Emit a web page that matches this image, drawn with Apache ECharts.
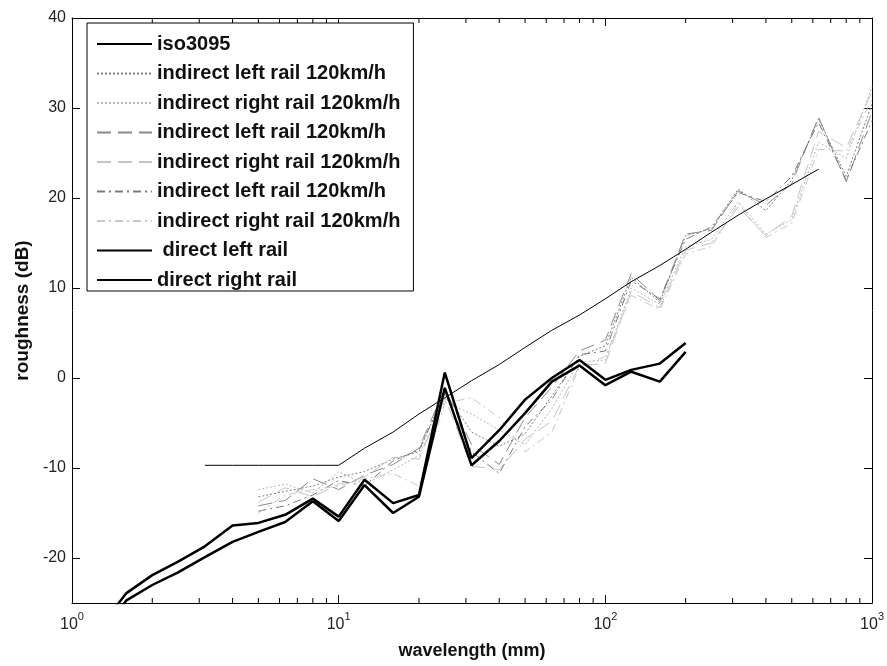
<!DOCTYPE html>
<html><head><meta charset="utf-8">
<script src="https://cdn.jsdelivr.net/npm/echarts@6/dist/echarts.min.js"></script>
<style>html,body{margin:0;padding:0;background:#fff}#c{width:887px;height:666px}</style>
</head><body><div id="c"></div>
<script>
// ---- data ----
const isoX = [3.15,4,5,6.3,8,10,12.5,16,20,25,31.5,40,50,63,80,100,125,160,200,250,315,400,500,630];
const isoY = [-9.7,-9.7,-9.7,-9.7,-9.7,-9.7,-7.8,-6.0,-4.0,-2.2,-0.3,1.5,3.4,5.3,7.0,8.8,10.7,12.5,14.3,16.2,18.1,19.9,21.5,23.2];

const indirectX = [5,6.3,8,10,12.5,16,20,25,31.5,40,50,63,80,100,125,160,200,250,315,400,500,630,800,1000];
const indLeftDot   = [-13.2,-12.6,-12.0,-11.0,-10.4,-9.0,-8.2,-1.6,-6.0,-7.6,-6.2,-2.0,2.4,3.6,11.2,8.4,15.8,16.6,21.0,18.6,22.0,28.8,22.4,30.5];
const indRightDot  = [-12.4,-11.8,-12.8,-10.4,-11.8,-10.2,-8.6,-2.6,-4.0,-5.8,-7.4,-3.4,1.8,2.0,10.0,8.2,14.6,15.4,19.6,16.0,17.6,26.2,24.4,32.4];
const indLeftDash  = [-14.2,-13.6,-11.2,-12.4,-10.8,-9.6,-7.8,-1.2,-7.4,-9.6,-4.4,-1.0,3.0,4.2,11.6,8.6,16.0,16.4,20.8,19.2,21.6,29.0,21.8,29.6];
const indRightDash = [-13.8,-12.2,-13.2,-11.8,-11.0,-8.8,-9.0,-2.2,-9.8,-10.2,-6.8,-4.8,1.4,1.6,9.6,7.8,14.2,15.0,19.0,15.8,18.0,27.4,25.6,31.8];
const indLeftDD    = [-14.8,-14.2,-13.0,-11.4,-12.0,-9.2,-8.0,-1.8,-8.2,-10.6,-5.4,-2.4,2.6,3.0,10.8,8.8,15.4,16.8,20.6,19.6,22.4,28.4,22.0,28.6];
const indRightDD   = [-15.0,-13.0,-12.4,-12.0,-11.2,-10.6,-12.0,-2.8,-2.2,-4.4,-8.2,-6.0,1.2,2.4,9.2,7.6,13.8,14.6,19.4,15.6,17.2,25.4,25.2,31.0];

const directX = [1.25,1.6,2,2.5,3.15,4,5,6.3,8,10,12.5,16,20,25,31.5,40,50,63,80,100,125,160,200];
const directLeft  = [-28,-23.9,-21.9,-20.4,-18.7,-16.4,-16.1,-15.2,-13.4,-15.4,-11.3,-13.9,-13.0,0.6,-8.9,-5.8,-2.4,0.0,2.0,-0.2,0.9,1.6,3.9];
const directRight = [-29,-24.7,-23.0,-21.6,-19.9,-18.2,-17.1,-16.0,-13.7,-15.9,-11.9,-15.0,-13.2,-1.1,-9.7,-7.0,-3.9,-0.4,1.4,-0.8,0.7,-0.4,2.9];

const seriesNames = ['iso3095','indirect left rail 120km/h','indirect right rail 120km/h','indirect left rail 120km/h ','indirect right rail 120km/h ','indirect left rail 120km/h  ','indirect right rail 120km/h  ',' direct left rail','direct right rail'];
const minorTicks = [2,3,4,5,6,7,8,9,20,30,40,50,60,70,80,90,200,300,400,500,600,700,800,900];
const yMin = -25, yMax = 40;

// ---- chart ----
const pair = (xs, ys) => xs.map((x, i) => [x, ys[i]]);
const FONT = 'Liberation Sans';
function line(name, xs, ys, color, width, type) {
  return { name, type: 'line', data: pair(xs, ys), symbol: 'none', showSymbol: false,
    lineStyle: { color, width, type }, itemStyle: { color }, clip: true, animation: false,
    emphasis: { disabled: true } };
}
const chart = echarts.init(document.getElementById('c'), null, { renderer: 'canvas' });
const axisCommon = {
  axisLine: { show: true, onZero: false, lineStyle: { color: '#000', width: 1 } },
  axisTick: { show: true, inside: true, length: 8, lineStyle: { color: '#000' } },
  splitLine: { show: false }
};
chart.setOption({
  animation: false,
  backgroundColor: '#fff',
  grid: { left: 72, right: 14, top: 18, bottom: 63, containLabel: false },
  xAxis: [
    Object.assign({ type: 'log', logBase: 10, min: 1, max: 1000, position: 'bottom',
      axisLabel: { margin: 8, color: '#222', fontFamily: FONT,
        formatter: v => '{b|10}{s|' + Math.round(Math.log10(v)) + '}',
        rich: { b: { fontSize: 16, fontFamily: FONT, color: '#222', lineHeight: 22, verticalAlign: 'bottom' },
                s: { fontSize: 11, fontFamily: FONT, color: '#222', lineHeight: 22, verticalAlign: 'top' } } },
      name: 'wavelength (mm)', nameLocation: 'middle', nameGap: 39,
      nameTextStyle: { fontFamily: FONT, fontSize: 18, fontWeight: 'bold', color: '#111' } }, axisCommon),
    Object.assign({ type: 'log', logBase: 10, min: 1, max: 1000, position: 'top',
      axisLabel: { show: false } }, axisCommon)
  ],
  yAxis: [
    Object.assign({ type: 'value', min: yMin, max: yMax, splitNumber: 7, position: 'left',
      axisLabel: { showMinLabel: false, margin: 6, color: '#222', fontFamily: FONT, fontSize: 16 },
      name: 'roughness (dB)', nameLocation: 'middle', nameGap: 40, nameRotate: 90,
      nameTextStyle: { fontFamily: FONT, fontSize: 19, fontWeight: 'bold', color: '#111' } }, axisCommon),
    Object.assign({ type: 'value', min: yMin, max: yMax, splitNumber: 7, position: 'right',
      axisLabel: { show: false } }, axisCommon)
  ],
  legend: {
    orient: 'vertical', left: 87, top: 23, padding: [11, 13, 1, 9], itemGap: 9.5,
    itemWidth: 55, itemHeight: 14, selectedMode: false,
    itemStyle: { opacity: 0, borderWidth: 0 },
    borderColor: '#000', borderWidth: 1, backgroundColor: '#fff',
    textStyle: { fontFamily: FONT, fontSize: 20, fontWeight: 'bold', color: '#111', lineHeight: 20 },
    data: seriesNames, formatter: n => n.replace(/\s+$/, '')
  },
  series: [
    line(seriesNames[1], indirectX, indLeftDot, '#808080', 1, [2, 2]),
    line(seriesNames[2], indirectX, indRightDot, '#b8b8b8', 1, [2, 2]),
    line(seriesNames[3], indirectX, indLeftDash, '#8a8a8a', 1, [14, 7]),
    line(seriesNames[4], indirectX, indRightDash, '#c4c4c4', 1, [14, 7]),
    line(seriesNames[5], indirectX, indLeftDD, '#7a7a7a', 1, [8, 4, 2, 4]),
    line(seriesNames[6], indirectX, indRightDD, '#c8c8c8', 1, [8, 4, 2, 4]),
    line(seriesNames[0], isoX, isoY, '#000', 1, 'solid'),
    line(seriesNames[7], directX, directLeft, '#000', 2.5, 'solid'),
    line(seriesNames[8], directX, directRight, '#000', 2.5, 'solid'),
    { type: 'custom', silent: true, animation: false, z: 1,
      data: minorTicks.map(v => [v, yMin]), encode: { x: 0, y: 1 },
      renderItem: (params, api) => {
        const xv = api.value(0);
        const b = api.coord([xv, yMin]);
        const t = api.coord([xv, yMax]);
        return { type: 'group', children: [
          { type: 'line', shape: { x1: b[0], y1: b[1], x2: b[0], y2: b[1] - 5 }, style: { stroke: '#000', lineWidth: 1 } },
          { type: 'line', shape: { x1: t[0], y1: t[1], x2: t[0], y2: t[1] + 5 }, style: { stroke: '#000', lineWidth: 1 } }
        ] };
      } }
  ]
});
</script>
</body></html>
